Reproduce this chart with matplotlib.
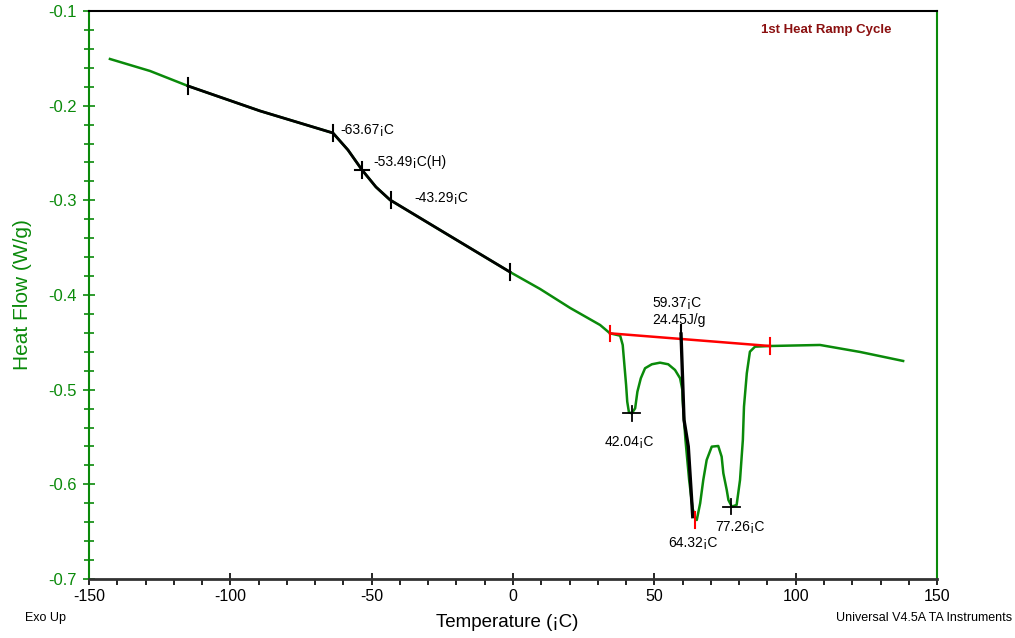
import matplotlib
matplotlib.use('Agg')
import matplotlib.pyplot as plt
from matplotlib.ticker import MultipleLocator

plt.rcParams['axes.unicode_minus'] = False

# green DSC trace, temperature (C) and heat flow (W/g)
temp = [-142.6, -128.4, -115.0, -89.5, -63.7, -58.4, -53.4, -48.5, -43.5, -22.3,
        -1.1, 9.6, 20.2, 30.8, 34.3, 37.9, 38.8, 39.3, 40.0, 40.4, 41.0, 42.0,
        43.2, 44.0, 45.2, 46.7, 49.1, 52.0, 54.9, 57.3, 59.1, 59.9, 60.0, 61.0,
        62.3, 63.5, 64.3, 65.0, 66.2, 67.3, 68.5, 70.3, 72.6, 73.8, 74.4, 75.6,
        76.2, 77.4, 79.1, 80.3, 81.3, 81.7, 82.7, 83.8, 85.6, 90.9, 108.6, 122.8,
        138.0]
heat = [-0.1507, -0.1634, -0.1792, -0.2056, -0.2289, -0.2468, -0.2680, -0.2859,
        -0.2996, -0.3377, -0.3757, -0.3937, -0.4137, -0.4317, -0.4405, -0.4430,
        -0.4528, -0.4705, -0.4951, -0.5127, -0.5239, -0.5250, -0.5197, -0.5021,
        -0.4880, -0.4774, -0.4732, -0.4715, -0.4732, -0.4792, -0.4880, -0.5003,
        -0.5109, -0.5532, -0.5954, -0.6250, -0.6345, -0.6377, -0.6200, -0.5954,
        -0.5743, -0.5602, -0.5595, -0.5708, -0.5883, -0.6060, -0.6166, -0.6236,
        -0.6218, -0.5954, -0.5532, -0.5180, -0.4827, -0.4599, -0.4546, -0.4539,
        -0.4528, -0.4602, -0.4697]

# glass transition analysis (black tangents)
tg_temp = [-115.0, -89.5, -63.7, -58.4, -53.4, -48.5, -43.5, -22.3, -1.1]
tg_heat = [-0.1792, -0.2056, -0.2289, -0.2468, -0.2680, -0.2859, -0.2996, -0.3377, -0.3757]
tg_ticks_t = [-115.0, -63.67, -43.29, -1.1]
tg_ticks_h = [-0.1792, -0.2289, -0.2996, -0.3757]
tg_mid = (-53.49, -0.2680)

# melting baseline (red) and partial area line (black)
base_t = [34.3, 90.9]
base_h = [-0.4405, -0.4539]
part_t = [59.43, 60.49, 62.0, 63.57]
part_h = [-0.4412, -0.5320, -0.5600, -0.6342]

peaks_t = [42.04, 77.26]
peaks_h = [-0.5250, -0.6236]
peak3 = (64.32, -0.6377)

green = '#0a8a0a'
sans = ['Liberation Sans', 'DejaVu Sans']

fig = plt.figure(figsize=(10.15, 6.38), dpi=100)
ax = fig.add_axes([0.0877, 0.0925, 0.8355, 0.8903])

ax.plot(temp, heat, color=green, lw=1.8, zorder=2)
ax.plot(tg_temp, tg_heat, color='black', lw=2.0, zorder=3)
for t, h in zip(tg_ticks_t, tg_ticks_h):
    ax.plot([t, t], [h - 0.008, h + 0.008], color='black', lw=1.5, zorder=4)
ax.plot([tg_mid[0] - 2.5, tg_mid[0] + 2.5], [tg_mid[1], tg_mid[1]], color='black', lw=1.5, zorder=4)
ax.plot([tg_mid[0], tg_mid[0]], [tg_mid[1] - 0.008, tg_mid[1] + 0.008], color='black', lw=1.5, zorder=4)

ax.plot(base_t, base_h, color='red', lw=1.8, zorder=3)
for t, h in zip(base_t, base_h):
    ax.plot([t, t], [h - 0.008, h + 0.008], color='red', lw=1.5, zorder=4)
ax.plot(part_t, part_h, color='black', lw=2.4, zorder=4)
ax.plot([part_t[0], part_t[0]], [part_h[0] - 0.006, part_h[0] + 0.01], color='black', lw=1.5, zorder=4)
ax.plot([peak3[0], peak3[0]], [peak3[1] - 0.008, peak3[1] + 0.008], color='red', lw=1.5, zorder=5)

for t, h in zip(peaks_t, peaks_h):
    ax.plot([t - 3, t + 3], [h, h], color='black', lw=1.3, zorder=5)
    ax.plot([t, t], [h - 0.008, h + 0.008], color='black', lw=1.3, zorder=5)

fs = 10
ax.text(-61.2, -0.2257, '-63.67¡C', fontsize=fs, family=sans, va='center')
ax.text(-49.5, -0.2595, '-53.49¡C(H)', fontsize=fs, family=sans, va='center')
ax.text(-35.0, -0.2975, '-43.29¡C', fontsize=fs, family=sans, va='center')
ax.text(49.4, -0.4084, '59.37¡C', fontsize=fs, family=sans, va='center')
ax.text(49.4, -0.4264, '24.45J/g', fontsize=fs, family=sans, va='center')
ax.text(41.0, -0.555, '42.04¡C', fontsize=fs, family=sans, va='center', ha='center')
ax.text(63.6, -0.6623, '64.32¡C', fontsize=fs, family=sans, va='center', ha='center')
ax.text(71.5, -0.6447, '77.26¡C', fontsize=fs, family=sans, va='center')
ax.text(110.7, -0.120, '1st Heat Ramp Cycle', fontsize=9.5, family=sans,
        fontweight='bold', color='#8b1010', va='center', ha='center')

ax.set_xlim(-150, 150)
ax.set_ylim(-0.7, -0.1)
ax.xaxis.set_major_locator(MultipleLocator(50))
ax.xaxis.set_minor_locator(MultipleLocator(10))
ax.yaxis.set_minor_locator(MultipleLocator(0.02))
ax.set_yticks([-0.7, -0.6, -0.5, -0.4, -0.3, -0.2, -0.1])
ax.set_yticklabels(['-0.7', '-0.6', '-0.5', '-0.4', '-0.3', '-0.2', '-0.1'])

ax.tick_params(axis='x', which='major', direction='inout', length=8, width=1.2,
               color='black', labelsize=11.5, pad=3)
ax.tick_params(axis='x', which='minor', direction='out', length=4, width=1.2, color='black')
ax.tick_params(axis='y', which='major', direction='inout', length=9, width=1.2,
               color=green, labelcolor=green, labelsize=12, pad=4)
ax.tick_params(axis='y', which='minor', direction='inout', length=7, width=1.2, color=green)
for lab in ax.get_xticklabels() + ax.get_yticklabels():
    lab.set_family(sans)

ax.spines['left'].set_color(green)
ax.spines['left'].set_linewidth(1.5)
ax.spines['right'].set_color(green)
ax.spines['right'].set_linewidth(1.5)
ax.spines['top'].set_color('black')
ax.spines['top'].set_linewidth(1.5)
ax.spines['bottom'].set_color('#333333')
ax.spines['bottom'].set_linewidth(2.0)

ax.set_ylabel('Heat Flow (W/g)', color=green, fontsize=15, family=sans, labelpad=12)
fig.text(0.5, 0.025, 'Temperature (¡C)', fontsize=13.5, family=sans, ha='center', va='center')
fig.text(0.025, 0.031, 'Exo Up', fontsize=9, family=sans, va='center')
fig.text(0.997, 0.031, 'Universal V4.5A TA Instruments', fontsize=9, family=sans,
         va='center', ha='right')

plt.savefig('out.png', dpi=100)
